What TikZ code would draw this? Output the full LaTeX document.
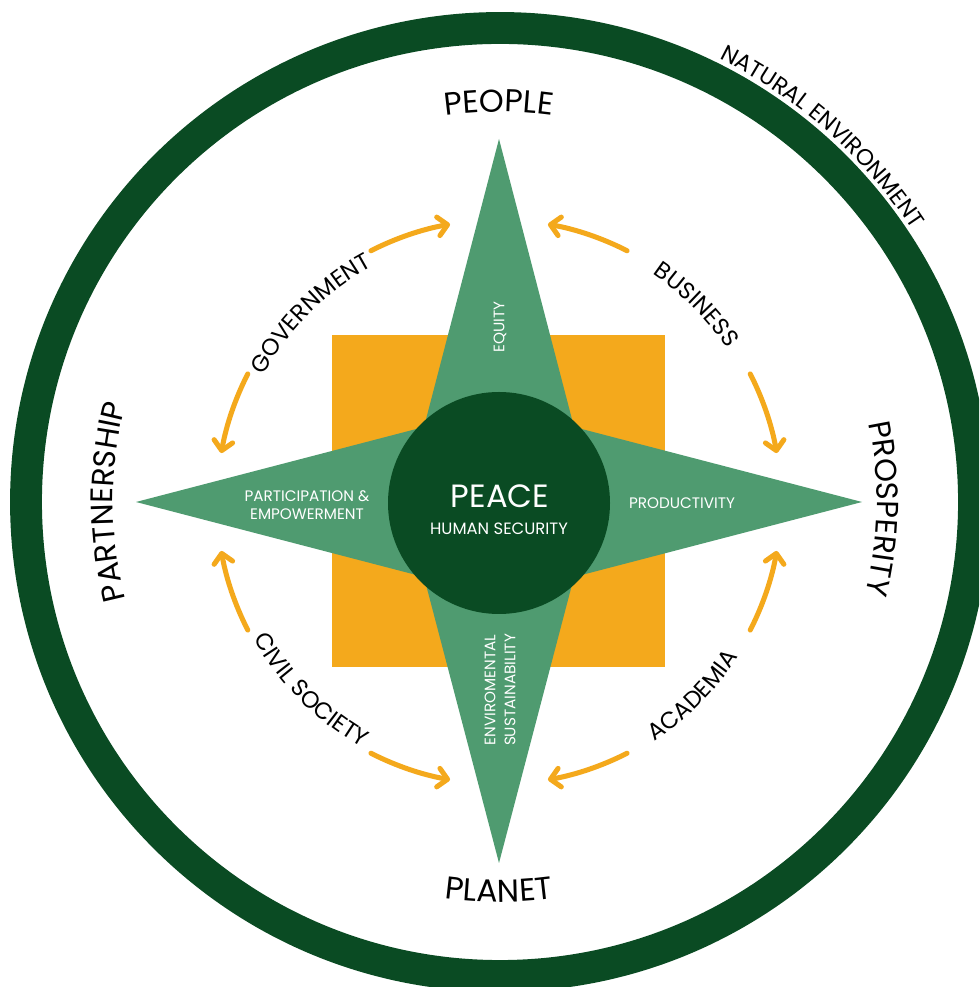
\documentclass[tikz,border=0pt]{standalone}
\usepackage{fontspec}
\setmainfont{Poppins}
\usetikzlibrary{arrows.meta, decorations.text}

\definecolor{darkgreen}{HTML}{0A4B23}
\definecolor{stargreen}{HTML}{4F9B70}
\definecolor{sunorange}{HTML}{F4A91C}

\tikzset{
  flow/.style={line width=4.3pt, line cap=round, sunorange,
    -{Straight Barb[length=8pt, width=16pt, round]}},
  startext/.style={text=white, font=\fontsize{13}{15.5}\selectfont, align=center},
  ringtext/.style 2 args={decorate, decoration={text along path,
    text align=center, text={|\fontsize{#1}{#1}\selectfont|#2}}},
}

\begin{document}
\begin{tikzpicture}[x=0.3mm, y=0.3mm]
  \clip (0,0) rectangle (979,987);
  \fill[white] (0,0) rectangle (979,987);

  \begin{scope}[shift={(499,485)}]
    % natural environment ring
    \draw[darkgreen, line width=27.2pt] (1,0) circle[radius=474];
    \path[ringtext={19.5}{NATURAL ENVIRONMENT}] (80:495) arc[start angle=80, end angle=17, radius=495];

    % square behind the star
    \fill[sunorange] (-167,-165) rectangle (166,167);

    % four-point star
    \fill[stargreen] (0,363) -- (75,75) -- (363,0) -- (75,-75) -- (0,-361)
      -- (-75,-75) -- (-363,0) -- (-75,75) -- cycle;

    % centre disc
    \node[circle, fill=darkgreen, minimum size=66.6mm, inner sep=0pt] (peace) at (0,-1) {};
    \node[text=white, font=\fontsize{27.5}{30}\selectfont] (peacetitle) at (1,6) {PEACE};
    \node[text=white, font=\fontsize{14}{16}\selectfont] (security) at (0,-27) {HUMAN SECURITY};

    % labels on the star arms
    \node[startext, rotate=90] (equity) at (1,175) {EQUITY};
    \node[startext] (productivity) at (183,-1) {PRODUCTIVITY};
    \node[startext] (participation) at (-192,-3) {PARTICIPATION \&\\EMPOWERMENT};
    \node[startext, rotate=90, font=\fontsize{13}{17}\selectfont] (sustain) at (1,-188)
      {ENVIROMENTAL\\SUSTAINABILITY};

    % the four Ps
    \path[ringtext={27}{PEOPLE}] (120:390) arc[start angle=120, end angle=60, radius=390];
    \path[ringtext={27}{PLANET}] (240:400) arc[start angle=240, end angle=300, radius=400];
    \path[ringtext={26.5}{PARTNERSHIP}] (215:386) arc[start angle=215, end angle=145, radius=386];
    \path[ringtext={26}{PROSPERITY}] (35:378) arc[start angle=35, end angle=-37, radius=378];

    % stakeholders
    \path[ringtext={20}{GOVERNMENT}] (165:267) arc[start angle=165, end angle=105, radius=267];
    \path[ringtext={20}{BUSINESS}] (75:275) arc[start angle=75, end angle=15, radius=275];
    \path[ringtext={20}{CIVIL SOCIETY}] (195:281) arc[start angle=195, end angle=255, radius=281];
    \path[ringtext={20}{ACADEMIA}] (285:285) arc[start angle=285, end angle=345, radius=285];

    % arrows out of each quadrant
    \foreach \q in {0,90,180,270} {
      \draw[flow] (\q+27:282) arc[start angle=\q+27, end angle=\q+10, radius=282];
      \draw[flow] (\q+63:282) arc[start angle=\q+63, end angle=\q+80, radius=282];
    }
  \end{scope}
\end{tikzpicture}
\end{document}
